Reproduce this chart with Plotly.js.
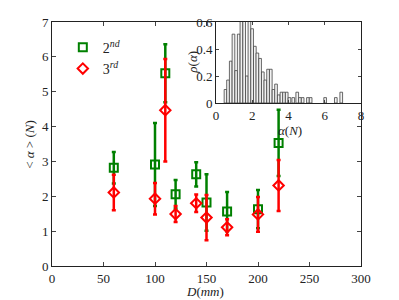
<!DOCTYPE html>
<html><head><meta charset="utf-8">
<script src="https://cdn.plot.ly/plotly-3.0.1.min.js"></script>
<style>html,body{margin:0;padding:0;background:#fff}</style>
</head><body>
<div id="chart" style="width:399px;height:300px"></div>
<script>
// main data
var D = [60, 100, 110, 120, 140, 150, 170, 200, 220];
var second = [2.82, 2.91, 5.53, 2.06, 2.63, 1.82, 1.56, 1.63, 3.53];
var secondErr = [0.45, 1.19, 0.83, 0.41, 0.35, 0.81, 0.56, 0.55, 0.95];
var third = [2.11, 1.93, 4.47, 1.49, 1.80, 1.39, 1.11, 1.48, 2.31];
var thirdErr = [0.51, 0.45, 1.47, 0.23, 0.25, 0.65, 0.23, 0.50, 0.73];
// inset histogram
var alphaBins = [0.52,0.66,0.81,0.96,1.11,1.25,1.40,1.55,1.70,1.84,1.99,2.14,2.28,2.43,2.58,2.72,2.87,3.02,3.17,3.31,3.46,3.61,3.75,3.90,4.05,4.26,4.48,4.63,4.78,5.07,5.22,6.02,6.61,6.91];
var rho = [0.10,0.17,0.31,0.51,0.24,0.51,0.62,0.62,0.20,0.62,0.55,0.42,0.37,0.33,0.23,0.17,0.25,0.25,0.10,0.14,0.06,0.08,0.08,0.08,0.04,0.04,0.08,0.04,0.04,0.04,0.04,0.04,0.04,0.08];

var green = '#008000', red = '#ff0000';
var serif = '"Liberation Serif", "Times New Roman", Times, serif';

var traces = [
  {x: D, y: second, type: 'scatter', mode: 'markers', name: '2<sup><i>nd</i></sup>',
   marker: {symbol: 'square-open', size: 8, color: green, line: {width: 2, color: green}},
   error_y: {type: 'data', array: secondErr, visible: true, color: green, thickness: 2.5, width: 2},
   xaxis: 'x', yaxis: 'y'},
  {x: D, y: third, type: 'scatter', mode: 'markers', name: '3<sup><i>rd</i></sup>',
   marker: {symbol: 'diamond-open', size: 8, color: red, line: {width: 2, color: red}},
   error_y: {type: 'data', array: thirdErr, visible: true, color: red, thickness: 2.5, width: 2},
   xaxis: 'x', yaxis: 'y'},
  {x: alphaBins, y: rho, type: 'bar', width: 0.147, showlegend: false,
   marker: {color: '#f2f2f2', line: {color: '#444', width: 0.8}},
   xaxis: 'x2', yaxis: 'y2'}
];

var ax = {showline: true, linecolor: '#222', linewidth: 1, mirror: 'ticks', ticks: 'inside',
  ticklen: 4, tickcolor: '#444', showgrid: false, zeroline: false,
  tickfont: {family: serif, size: 13, color: '#222'}};

var layout = {
  width: 399, height: 300,
  margin: {l: 52, r: 38, t: 22, b: 34},
  paper_bgcolor: '#fff', plot_bgcolor: '#fff',
  font: {family: serif},
  showlegend: true,
  legend: {x: 0.035, y: 0.96, xanchor: 'left', yanchor: 'top', bgcolor: 'rgba(0,0,0,0)',
    font: {family: serif, size: 14, color: '#222'}, tracegroupgap: 0},
  xaxis: Object.assign({}, ax, {range: [0, 300], tickvals: [0,50,100,150,200,250,300], domain: [0, 1], anchor: 'y'}),
  yaxis: Object.assign({}, ax, {range: [0, 7], tickvals: [0,1,2,3,4,5,6,7], domain: [0, 1], anchor: 'x'}),
  xaxis2: Object.assign({}, ax, {range: [0, 8], tickvals: [0,2,4,6,8], domain: [0.531, 1], anchor: 'y2', ticklen: 3}),
  yaxis2: Object.assign({}, ax, {range: [0, 0.6], tickvals: [0,0.2,0.4,0.6], ticktext: ['0','0.2','0.4','0.6'], domain: [0.668, 1], anchor: 'x2', ticklen: 3}),
  annotations: [
    {text: '<i>D</i>(<i>mm</i>)', xref: 'paper', yref: 'paper', x: 0.495, y: -0.105, showarrow: false,
     xanchor: 'center', yanchor: 'middle', font: {family: serif, size: 13, color: '#222'}},
    {text: '&lt; <i>α</i> &gt; (<i>N</i>)', xref: 'paper', yref: 'paper', x: -0.075, y: 0.5, showarrow: false,
     textangle: -90, xanchor: 'center', yanchor: 'middle', font: {family: serif, size: 13, color: '#222'}},
    {text: '<i>α</i>(<i>N</i>)', xref: 'paper', yref: 'paper', x: 0.77, y: 0.555, showarrow: false,
     xanchor: 'center', yanchor: 'middle', font: {family: serif, size: 13, color: '#222'}},
    {text: '<i>ρ</i>(<i>α</i>)', xref: 'paper', yref: 'paper', x: 0.452, y: 0.836, showarrow: false,
     textangle: -90, xanchor: 'center', yanchor: 'middle', font: {family: serif, size: 13, color: '#222'}}
  ]
};

Plotly.newPlot('chart', traces, layout, {staticPlot: true, displayModeBar: false});
</script>
</body></html>
